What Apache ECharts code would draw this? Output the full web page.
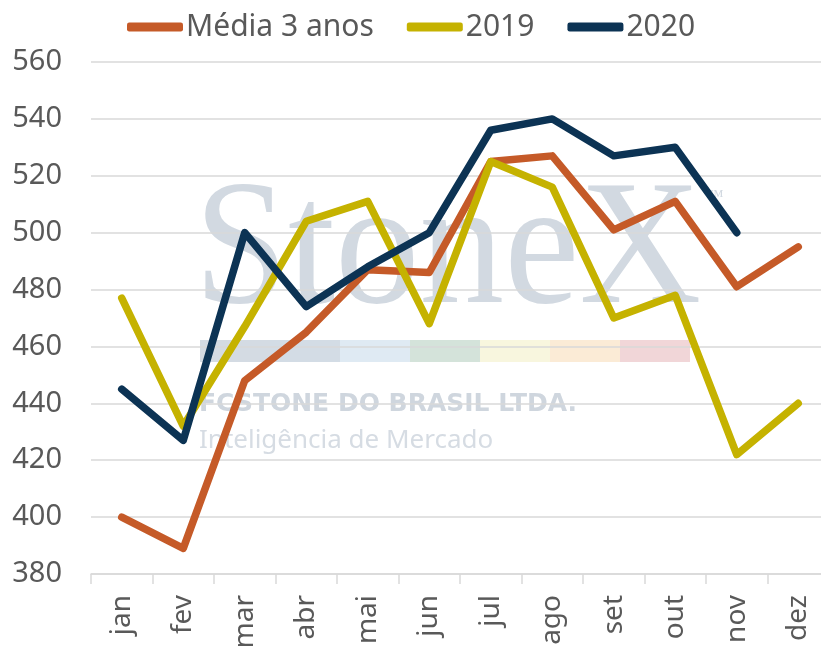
<!DOCTYPE html>
<html>
<head>
<meta charset="utf-8">
<script src="https://cdn.jsdelivr.net/npm/echarts@6/dist/echarts.min.js"></script>
<style>
  html, body { margin: 0; padding: 0; background: #fff; }
  #chart { width: 821px; height: 646px; }
</style>
</head>
<body>
<div id="chart"></div>
<script>
// meses
const months = ['jan', 'fev', 'mar', 'abr', 'mai', 'jun', 'jul', 'ago', 'set', 'out', 'nov', 'dez']

// valores
const media3anos = [400, 389, 448, 465, 487, 486, 525, 527, 501, 511, 481, 495]
const ano2019 = [477, 432, 467, 504, 511, 468, 525, 516, 470, 478, 422, 440]
const ano2020 = [445, 427, 500, 474, 488, 500, 536, 540, 527, 530, 500, null]

const yTicks = { min: 380, max: 560, interval: 20 }

const textColor = '#595959'
const gridColor = '#d9d9d9'

// marca d'água (faixas coloridas)
const stripColors = ['#d4dbe3', '#d3dce5', '#dfeaf3', '#d4e3da', '#f8f6de', '#fbebd6', '#f1d6d8']

const chart = echarts.init(document.getElementById('chart'))

const watermark = [
  {
    type: 'text', x: 194, y: 166, scaleX: 0.95, z: 0, silent: true,
    style: { text: 'StoneX', font: '178px "Liberation Serif"', fill: '#d2d9e1' }
  },
  {
    type: 'text', left: 706, top: 188, z: 0, silent: true,
    style: { text: '™', font: '18px "Liberation Serif"', fill: '#d2d9e1' }
  },
  ...stripColors.map((c, i) => ({
    type: 'rect', z: 0, silent: true,
    shape: { x: 200 + i * 70, y: 340, width: 70, height: 22 },
    style: { fill: c }
  })),
  {
    type: 'text', left: 199, top: 392, z: 0, silent: true,
    style: { text: 'FCSTONE DO BRASIL LTDA.', font: 'bold 25px "DejaVu Sans"', fill: '#cfd6de' }
  },
  {
    type: 'text', left: 199, top: 428, z: 0, silent: true,
    style: { text: 'Inteligência de Mercado', font: '26px "Noto Sans"', fill: '#d6dce3' }
  }
]

const lineSeries = (name, data, color) => ({
  name,
  type: 'line',
  data,
  showSymbol: false,
  z: 3,
  lineStyle: { width: 7.5, color, cap: 'round', join: 'round' },
  itemStyle: { color }
})

const option = {
  animation: false,
  graphic: watermark,
  legend: {
    top: 7,
    left: 122,
    icon: 'roundRect',
    itemWidth: 56,
    itemHeight: 9,
    itemGap: 33,
    textStyle: { fontFamily: 'Noto Sans', fontSize: 30, color: textColor, padding: [0, 0, 0, -2] },
    data: ['Média 3 anos', '2019', '2020']
  },
  grid: {
    left: 91,
    width: 738,
    top: 62,
    bottom: 72,
    containLabel: false,
    outerBoundsMode: 'none'
  },
  xAxis: {
    type: 'category',
    data: months,
    axisLine: { lineStyle: { color: gridColor, width: 1.5 } },
    axisTick: { show: true, length: 10, lineStyle: { color: gridColor, width: 1.5 } },
    axisLabel: {
      rotate: 90,
      margin: 21,
      fontFamily: 'Noto Sans',
      fontSize: 28,
      color: textColor
    }
  },
  yAxis: {
    type: 'value',
    min: yTicks.min,
    max: yTicks.max,
    interval: yTicks.interval,
    axisLine: { show: false },
    axisTick: { show: false },
    axisLabel: {
      margin: 29,
      fontFamily: 'Noto Sans',
      fontSize: 29,
      color: textColor
    },
    splitLine: { lineStyle: { color: gridColor, width: 1.5 } }
  },
  series: [
    lineSeries('Média 3 anos', media3anos, '#c55a28'),
    lineSeries('2019', ano2019, '#c5b200'),
    lineSeries('2020', ano2020, '#0c3354')
  ]
}

chart.setOption(option)
</script>
</body>
</html>
